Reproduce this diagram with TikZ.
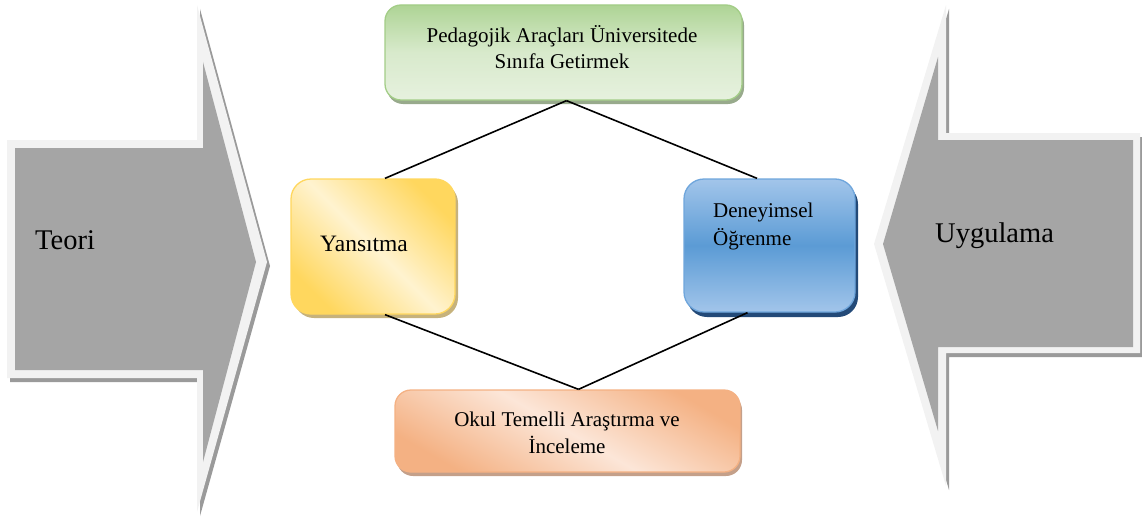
\documentclass[tikz,border=0pt]{standalone}
\usepackage{fontspec}
\setmainfont{Liberation Serif}
\usetikzlibrary{shadows}

\definecolor{arrowgray}{HTML}{A5A5A5}
\definecolor{arrowrim}{HTML}{F2F2F2}
\definecolor{arrowshadow}{HTML}{9A9A9A}
\definecolor{yelA}{HTML}{FFD75E}
\definecolor{yelB}{HTML}{FFF3D0}
\definecolor{yelShadow}{HTML}{C6B27C}
\definecolor{bluA}{HTML}{A2C5EA}
\definecolor{bluB}{HTML}{5B9BD5}
\definecolor{bluLine}{HTML}{6FA6DC}
\definecolor{bluShadow}{HTML}{234A78}
\definecolor{grnA}{HTML}{AED495}
\definecolor{grnB}{HTML}{E6F1DE}
\definecolor{grnLine}{HTML}{A3CD87}
\definecolor{grnShadow}{HTML}{98AA8C}
\definecolor{orgA}{HTML}{F4B183}
\definecolor{orgB}{HTML}{FCE6D8}
\definecolor{orgShadow}{HTML}{C4A08A}

\tikzset{
  box/.style={rounded corners=#1, line width=1.3pt, inner sep=0pt},
  boxtext/.style={font=\fontsize{21}{27}\selectfont, inner sep=0pt, align=center},
  bigtext/.style={font=\fontsize{28.5}{34}\selectfont, inner sep=0pt},
  link/.style={line width=1.6pt, black},
}

\begin{document}
\begin{tikzpicture}[x=1pt, y=-1pt]
	\useasboundingbox (0,0) rectangle (1142,527);
	% Left arrow (Teori):
	\fill[arrowshadow] (10,144) -- (200,144) -- (200,9) -- (270,266) -- (200,516) -- (200,382) -- (10,382) -- cycle;
	\fill[arrowrim] (7,140) -- (197,140) -- (197,5) -- (267,262) -- (197,512) -- (197,378) -- (7,378) -- cycle;
	\fill[arrowgray] (15,148) -- (203,148) -- (203,62) -- (256,262) -- (203,462) -- (203,370) -- (15,370) -- cycle;
	\node[bigtext, anchor=base west] (teori) at (35,249) {Teori};
	% Right arrow (Uygulama):
	\fill[arrowshadow] (1143,137) -- (949,137) -- (949,9) -- (877,247) -- (949,490) -- (949,357) -- (1143,357) -- cycle;
	\fill[arrowrim] (1140,133) -- (946,133) -- (946,5) -- (874,244) -- (946,486) -- (946,353) -- (1140,353) -- cycle;
	\fill[arrowgray] (1133,140) -- (938,140) -- (938,57) -- (883,244) -- (938,431) -- (938,347) -- (1133,347) -- cycle;
	\node[bigtext, anchor=base west] (uyg) at (935,242) {Uygulama};
	% Boxes:
	\node[box=16pt, draw=grnLine, minimum width=357pt, minimum height=95pt,
		top color=grnA, bottom color=grnB, middle color=grnB!75!grnA,
		drop shadow={shadow xshift=2pt, shadow yshift=-4pt, fill=grnShadow, opacity=1}]
		(ped) at (563.5,52.5) {};
	\node[box=20pt, draw=yelA, minimum width=164pt, minimum height=135pt,
		top color=yelA, bottom color=yelA, middle color=yelB, shading angle=-45,
		drop shadow={shadow xshift=3pt, shadow yshift=-4pt, fill=yelShadow, opacity=1}]
		(yan) at (373,246.5) {};
	\node[box=20pt, draw=bluLine, minimum width=171pt, minimum height=133pt,
		top color=bluA, bottom color=bluA, middle color=bluB,
		drop shadow={shadow xshift=3pt, shadow yshift=-5pt, fill=bluShadow, opacity=1}]
		(den) at (769.5,245.5) {};
	\node[box=16pt, draw=orgA, minimum width=345pt, minimum height=82pt,
		top color=orgA, bottom color=orgA, middle color=orgB, shading angle=-30,
		drop shadow={shadow xshift=2pt, shadow yshift=-4pt, fill=orgShadow, opacity=1}]
		(okul) at (567.5,431) {};
	% Texts (base = last line):
	\node[boxtext, anchor=base] (pedT) at (562,69) {Pedagojik Araçları Üniversitede\\Sınıfa Getirmek};
	\node[boxtext, font=\fontsize{23.5}{28}\selectfont, anchor=base west] (yanT) at (320,251) {Yansıtma};
	\node[boxtext, align=left, font=\fontsize{21}{27.5}\selectfont, anchor=base west] (denT) at (713,245) {Deneyimsel\\Öğrenme};
	\node[boxtext, anchor=base] (okulT) at (567,453) {Okul Temelli Araştırma ve\\İnceleme};
	% Links:
	\draw[link] ([xshift=3pt]ped.south) -- ([xshift=12pt]yan.north);
	\draw[link] ([xshift=3pt]ped.south) -- ([xshift=-12.5pt]den.north);
	\draw[link] ([xshift=12pt]yan.south) -- ([xshift=11pt]okul.north);
	\draw[link] ([xshift=-22pt]den.south) -- ([xshift=11pt]okul.north);
\end{tikzpicture}
\end{document}
